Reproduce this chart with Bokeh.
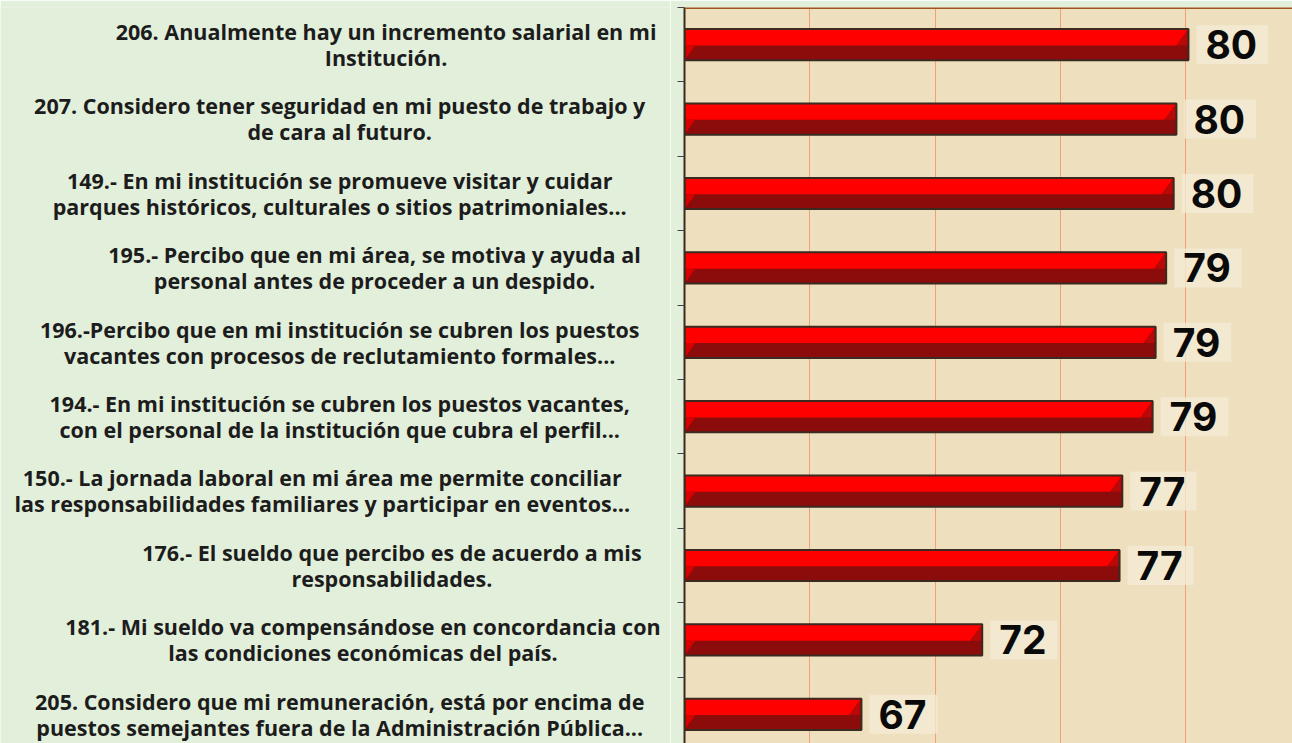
from bokeh.plotting import figure
from bokeh.layouts import row
from bokeh.models import Range1d, FixedTicker, Span, ColumnDataSource
from bokeh.embed import file_html
from bokeh.resources import INLINE
from bokeh.core.properties import value

# ---------------- data ----------------
label_line1 = [
    "206. Anualmente hay un incremento salarial en mi",
    "207. Considero tener seguridad en mi puesto de trabajo y",
    "149.- En mi institución se promueve visitar y cuidar",
    "195.- Percibo que en mi área, se motiva y ayuda al",
    "196.-Percibo que en mi institución se cubren los puestos",
    "194.- En mi institución se cubren los puestos vacantes,",
    "150.- La jornada laboral en mi área me permite conciliar",
    "176.- El sueldo que percibo es de acuerdo a mis",
    "181.- Mi sueldo va compensándose en concordancia con",
    "205. Considero que mi remuneración, está por encima de",
]
label_line2 = [
    "Institución.",
    "de cara al futuro.",
    "parques históricos, culturales o sitios patrimoniales...",
    "personal antes de proceder a un despido.",
    "vacantes con procesos de reclutamiento formales...",
    "con el personal de la institución que cubra el perfil...",
    "las responsabilidades familiares y participar en eventos...",
    "responsabilidades.",
    "las condiciones económicas del país.",
    "puestos semejantes fuera de la Administración Pública...",
]
values = [80.11, 79.63, 79.52, 79.22, 78.80, 78.68, 77.47, 77.36, 71.88, 67.06]
value_labels = ["80", "80", "80", "79", "79", "79", "77", "77", "72", "67"]
grid_ticks = [65, 70, 75, 80]

# ---------------- layout constants ----------------
H = 743
TOP = 7
AXIS_W = 14
LEFT_W = 684 - AXIS_W
MAIN_W = 1292 - LEFT_W
PX_X = 25.06          # pixels per unit on x
CAT_PX = 74.4         # pixels per category
XMIN = 60
x_end = XMIN + (MAIN_W - AXIS_W) / PX_X
n = len(values)
y_range = Range1d((H - TOP) / CAT_PX, 0)
GREEN = "#E2EFDA"

# ---------------- main chart ----------------
p = figure(width=MAIN_W, height=H,
           x_range=Range1d(XMIN, x_end), y_range=y_range,
           output_backend="svg", toolbar_location=None,
           min_border_left=AXIS_W, min_border_right=0,
           min_border_top=TOP, min_border_bottom=0,
           x_axis_location=None,
           background_fill_color="#EEDFBE", border_fill_color=GREEN,
           outline_line_color=None)

p.xgrid.ticker = FixedTicker(ticks=grid_ticks)
p.xgrid.grid_line_color = "#F2A07A"
p.xgrid.grid_line_width = 1
p.ygrid.visible = False

ax = p.yaxis[0]
ax.ticker = FixedTicker(ticks=list(range(n + 1)))
ax.major_label_text_font_size = "0px"
ax.major_label_standoff = 0
ax.axis_line_color = "#3B2A1E"
ax.axis_line_width = 2
ax.major_tick_in = 0
ax.major_tick_out = 7
ax.major_tick_line_color = "#444444"
ax.minor_tick_line_color = None

p.add_layout(Span(location=0, dimension="width", line_color="#A0561E", line_width=3))

ys = [i + 0.5 for i in range(n)]
half = 0.21
bev = 12 / PX_X
src = ColumnDataSource(dict(y=ys, right=values))
p.hbar(y="y", height=2 * half, left=XMIN, right="right", source=src,
       fill_color="#8C0B0B", line_color=None)

bright_xs, bright_ys = [], []
rtri_xs, rtri_ys = [], []
ltri_xs, ltri_ys = [], []
for y, v in zip(ys, values):
    top, mid, bot = y - half, y + 0.01, y + half
    bright_xs.append([XMIN, v, v - bev, XMIN])
    bright_ys.append([top, top, mid, mid])
    rtri_xs.append([v, v, v - bev])
    rtri_ys.append([top, mid, mid])
    ltri_xs.append([XMIN, XMIN + bev * 0.9, XMIN])
    ltri_ys.append([mid, mid, bot])
p.patches(bright_xs, bright_ys, fill_color="#FF0000", line_color=None)
p.patches(rtri_xs, rtri_ys, fill_color="#B80808", line_color=None)
p.patches(ltri_xs, ltri_ys, fill_color="#D80000", line_color=None)
p.hbar(y="y", height=2 * half, left=XMIN, right="right", source=src,
       fill_color=None, line_color="#3A2A20", line_width=2)

lsrc = ColumnDataSource(dict(x=values, y=ys, t=value_labels))
p.text(x="x", y="y", text="t", source=lsrc, x_offset=8,
       text_baseline="middle", text_align="left",
       text_font=value("Inter"), text_font_size="39px", text_font_style="bold",
       text_color="#0A0A0A",
       background_fill_color="#F4ECD6", background_fill_alpha=0.75,
       padding=dict(left=9, right=11, top=5, bottom=5))

# ---------------- category label panel ----------------
lp = figure(width=LEFT_W, height=H, x_range=Range1d(0, LEFT_W), y_range=y_range,
            output_backend="svg", toolbar_location=None,
            min_border_left=0, min_border_right=0,
            min_border_top=TOP, min_border_bottom=0,
            x_axis_location=None, y_axis_location=None,
            background_fill_color=GREEN, border_fill_color=GREEN,
            outline_line_color=None)
lp.grid.visible = False

CHAR_W = 11.6
RIGHT_EDGE = 664
tx, ty, tt = [], [], []
for i, (a, b) in enumerate(zip(label_line1, label_line2)):
    w = max(len(a), len(b)) * CHAR_W
    cx = RIGHT_EDGE - w / 2
    for txt, dy in ((a, -0.178), (b, 0.172)):
        tx.append(cx)
        ty.append(ys[i] + dy)
        tt.append(txt)
lp.text(x=tx, y=ty, text=tt, text_align="center", text_baseline="middle",
        text_font=value("Open Sans"), text_font_size="21.5px",
        text_font_style="bold", text_color="#1C1C1C")

layout = row(lp, p, spacing=0)
open("out.html", "w").write(file_html(layout, INLINE))
